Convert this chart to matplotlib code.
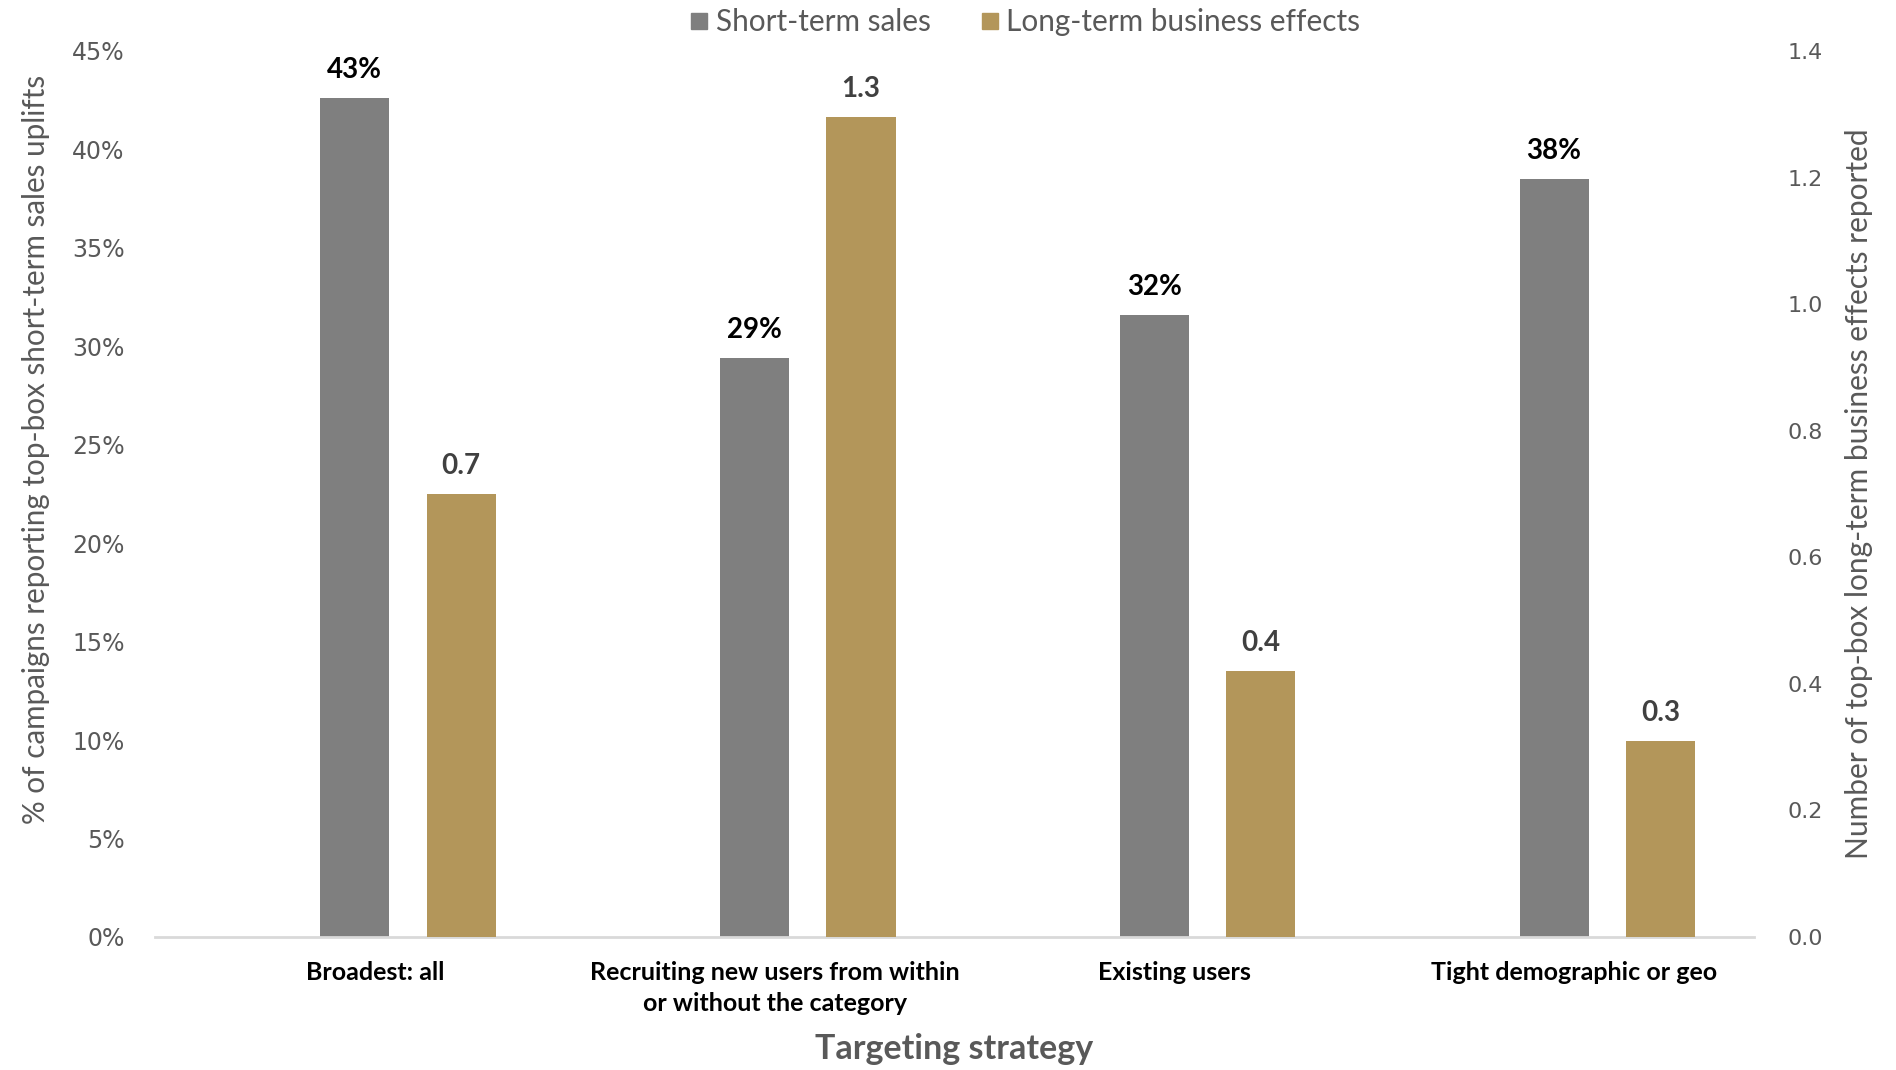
import matplotlib
matplotlib.use("Agg")
import matplotlib.pyplot as plt
from matplotlib.lines import Line2D
import numpy as np

categories = ["Broadest: all",
              "Recruiting new users from within\nor without the category",
              "Existing users",
              "Tight demographic or geo"]
short_term = [0.426, 0.294, 0.316, 0.385]   # share of campaigns, left axis
long_term = [0.70, 1.295, 0.42, 0.31]       # number of effects, right axis

GREY = "#7f7f7f"
GOLD = "#b3965a"
TXT = "#595959"

plt.rcParams["font.family"] = ["Lato", "DejaVu Sans"]

fig = plt.figure(figsize=(18.96, 10.70), dpi=100)
ax = fig.add_axes([155 / 1896, 1 - 937 / 1070, 1599 / 1896, 886 / 1070])
ax2 = ax.twinx()

x = np.arange(len(categories))
w = 0.173
b1 = ax.bar(x, short_term, width=w, color=GREY, zorder=2)
b2 = ax2.bar(x + 0.266, long_term, width=w, color=GOLD, zorder=2)

ax.set_xlim(-0.5, 3.5)
ax.set_ylim(0, 0.45)
ax2.set_ylim(0, 1.4)

ax.set_yticks(np.arange(0, 0.451, 0.05))
ax.set_yticklabels([f"{int(round(v * 100))}%" for v in np.arange(0, 0.451, 0.05)])
ax2.set_yticks(np.arange(0, 1.41, 0.2))
ax2.set_yticklabels([f"{v:.1f}" for v in np.arange(0, 1.41, 0.2)])

for a in (ax, ax2):
    for s in a.spines.values():
        s.set_visible(False)
ax.spines["bottom"].set_visible(True)
ax.spines["bottom"].set_color("#d9d9d9")
ax.spines["bottom"].set_linewidth(2)

ax.tick_params(axis="y", length=0, pad=22, labelsize=17, labelcolor=TXT)
ax2.tick_params(axis="y", length=0, pad=24, labelsize=16, labelcolor=TXT)
for t in ax.get_yticklabels() + ax2.get_yticklabels():
    t.set_fontfamily("DejaVu Sans")

ax.set_xticks(x + 0.05)
ax.set_xticklabels(categories, fontsize=18, fontweight="bold", color="black",
                   linespacing=1.45)
ax.tick_params(axis="x", length=0, pad=17)

ax.set_ylabel("% of campaigns reporting top-box short-term sales uplifts",
              fontsize=21.3, color=TXT, va="center")
ax.yaxis.set_label_coords(-0.0745, 0.55)
ax2.set_ylabel("Number of top-box long-term business effects reported",
               fontsize=21.5, color=TXT, rotation=90, va="center")
ax2.yaxis.set_label_coords(1.0655, 0.5)

ax.set_xlabel("Targeting strategy", fontsize=24.5, fontweight="bold", color=TXT)
ax.xaxis.set_label_coords(0.50, -0.126)
ax.xaxis.label.set_va("center")

# value labels on top of each bar
for rect, v in zip(b1, short_term):
    ax.annotate(f"{v:.0%}", (rect.get_x() + rect.get_width() / 2, v),
                xytext=(0, 11), textcoords="offset points", ha="center",
                va="bottom", fontsize=20, fontweight="bold", color="black")
for rect, v in zip(b2, long_term):
    ax2.annotate(f"{v:.1f}", (rect.get_x() + rect.get_width() / 2, v),
                 xytext=(0, 11), textcoords="offset points", ha="center",
                 va="bottom", fontsize=20, fontweight="bold", color="#404040")

handles = [Line2D([], [], marker="s", linestyle="none", markersize=12,
                  markerfacecolor=GREY, markeredgecolor=GREY),
           Line2D([], [], marker="s", linestyle="none", markersize=12,
                  markerfacecolor=GOLD, markeredgecolor=GOLD)]
leg = fig.legend(handles, ["Short-term sales", "Long-term business effects"],
                 loc="center", bbox_to_anchor=(0.54, 1 - 22 / 1070), ncol=2,
                 frameon=False, fontsize=21.4, handletextpad=0.15,
                 columnspacing=1.6, handlelength=0.8)
for t in leg.get_texts():
    t.set_color(TXT)

fig.savefig("out.png", dpi=100, facecolor="white")
